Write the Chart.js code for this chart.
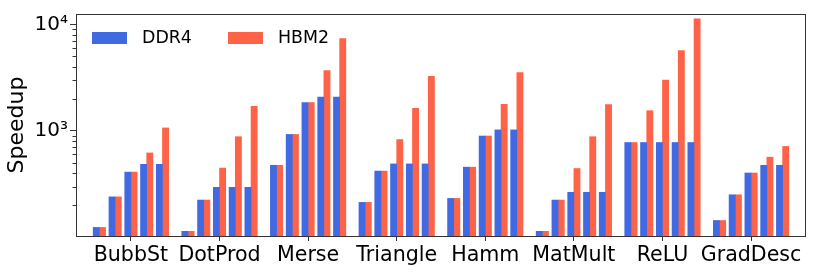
<!DOCTYPE html>
<html>
<head>
<meta charset="utf-8">
<script src="https://cdn.jsdelivr.net/npm/chart.js@4"></script>
<style>
  html, body { margin: 0; padding: 0; background: #fff; }
</style>
</head>
<body>
<canvas id="chart" width="814" height="273"></canvas>
<script>
// benchmark names along the x axis
const categories = ['BubbSt', 'DotProd', 'Merse', 'Triangle', 'Hamm', 'MatMult', 'ReLU', 'GradDesc'];

// speedup for the five configurations of each benchmark
const ddr4 = [
    [124, 240, 410, 485, 485],
    [114, 224, 295, 295, 295],
    [475, 925, 1840, 2075, 2075],
    [213, 419, 489, 489, 489],
    [232, 456, 894, 1021, 1021],
    [114, 224, 265, 265, 265],
    [777, 777, 777, 777, 777],
    [144, 251, 402, 475, 475]
];
const hbm2 = [
    [124, 240, 410, 620, 1065],
    [114, 224, 447, 881, 1703],
    [475, 925, 1840, 3670, 7350],
    [213, 419, 828, 1623, 3250],
    [232, 456, 894, 1778, 3516],
    [114, 224, 443, 881, 1766],
    [777, 1546, 2993, 5666, 11270],
    [144, 251, 402, 566, 714]
];

const seriesNames = ['DDR4', 'HBM2'];
const seriesColors = ['#4169E1', '#FF6347'];

// y axis ticks (log scale)
const yTickValues = [1000, 10000];
const yTickLabels = ['10³', '10⁴'];
const yMinorTicks = [200, 300, 400, 500, 600, 700, 800, 900, 2000, 3000, 4000, 5000, 6000, 7000, 8000, 9000];

// spacing of the bars inside one group, in x axis units
const barWidth = 0.07;
const pairPitch = 0.178;

const FONT = 'DejaVu Sans';

// builds {x, y} points so each pair sits next to its benchmark label
function buildPoints(values, seriesIndex) {
    let points = [];
    for (let i = 0; i < categories.length; i++) {
        for (let k = 0; k < values[i].length; k++) {
            let x = i + (k - 2) * pairPitch + (seriesIndex - 0.5) * barWidth;
            points.push({ x: x, y: values[i][k] });
        }
    }
    return points;
}

// draws the box around the plot, the short minor ticks and the legend
const framePlugin = {
    id: 'frame',
    afterDraw(chart) {
        const ctx = chart.ctx;
        const a = chart.chartArea;
        const y = chart.scales.y;
        ctx.save();
        ctx.strokeStyle = '#333';
        ctx.lineWidth = 1;
        ctx.strokeRect(a.left + 0.5, a.top + 0.5, a.right - a.left - 1, a.bottom - a.top);

        ctx.beginPath();
        yMinorTicks.forEach(function(v) {
            let py = Math.round(y.getPixelForValue(v)) + 0.5;
            ctx.moveTo(a.left - 3.5, py);
            ctx.lineTo(a.left, py);
        });
        ctx.stroke();

        // legend inside the top left corner
        ctx.font = '17.4px "' + FONT + '"';
        ctx.textBaseline = 'middle';
        ctx.textAlign = 'left';
        chart.data.datasets.forEach(function(ds, i) {
            let bx = a.left + 16 + i * 136;
            let by = a.top + 18;
            ctx.fillStyle = ds.backgroundColor;
            ctx.fillRect(bx, by, 35, 12);
            ctx.fillStyle = '#000';
            ctx.fillText(ds.label, bx + 50, by + 6);
        });
        ctx.restore();
    }
};

new Chart(document.getElementById('chart'), {
    type: 'bar',
    data: {
        datasets: [
            {
                label: seriesNames[0],
                data: buildPoints(ddr4, 0),
                backgroundColor: seriesColors[0]
            },
            {
                label: seriesNames[1],
                data: buildPoints(hbm2, 1),
                backgroundColor: seriesColors[1]
            }
        ]
    },
    options: {
        responsive: false,
        animation: false,
        devicePixelRatio: 1,
        grouped: false,
        barThickness: 6.2,
        layout: { padding: { top: 7, right: 8, left: 0, bottom: 0 } },
        plugins: {
            legend: { display: false },
            tooltip: { enabled: false }
        },
        scales: {
            x: {
                type: 'linear',
                offset: false,
                min: -0.62,
                max: 7.62,
                afterBuildTicks: function(scale) {
                    scale.ticks = categories.map(function(c, i) { return { value: i }; });
                },
                afterFit: function(scale) { scale.height = 37; },
                ticks: {
                    autoSkip: false,
                    maxRotation: 0,
                    padding: 2,
                    color: '#000',
                    font: { family: FONT, size: 20.6 },
                    callback: function(v) { return categories[v]; }
                },
                grid: { drawOnChartArea: false, offset: false, tickLength: 5, tickColor: '#333' },
                border: { display: false }
            },
            y: {
                type: 'logarithmic',
                min: 103,
                max: 12500,
                afterBuildTicks: function(scale) {
                    scale.ticks = yTickValues.map(function(v) { return { value: v }; });
                },
                afterFit: function(scale) { scale.width = 76; },
                ticks: {
                    padding: 2,
                    color: '#000',
                    font: { family: FONT, size: 20 },
                    callback: function(v) { return yTickLabels[yTickValues.indexOf(v)]; }
                },
                grid: { drawOnChartArea: false, tickLength: 6, tickColor: '#333' },
                border: { display: false },
                title: {
                    display: true,
                    text: 'Speedup',
                    color: '#000',
                    font: { family: FONT, size: 22 }
                }
            }
        }
    },
    plugins: [framePlugin]
});
</script>
</body>
</html>
